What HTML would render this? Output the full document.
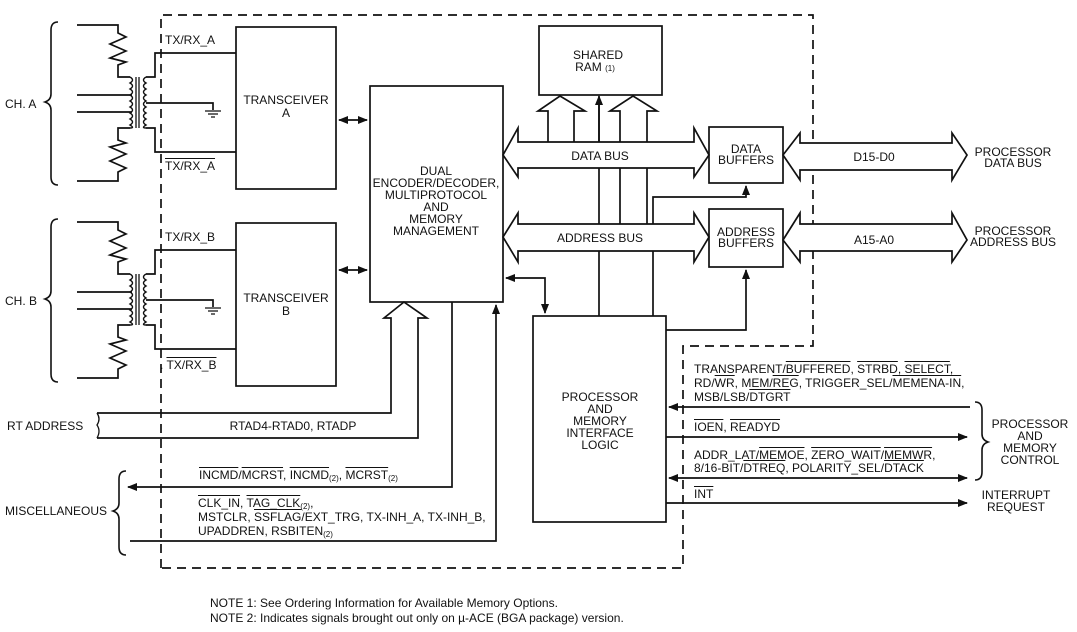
<!DOCTYPE html>
<html><head><meta charset="utf-8"><style>
html,body{margin:0;padding:0;background:#fff;}
#w{position:relative;width:1077px;height:632px;overflow:hidden;}
svg{display:block;position:absolute;left:0;top:0;}
text{font-family:"Liberation Sans",sans-serif;font-size:12px;fill:#111;}
.t{position:absolute;font-family:"Liberation Sans",sans-serif;font-size:12px;line-height:12px;color:#111;white-space:nowrap;}
.o{text-decoration:overline;}
sub{font-size:8px;vertical-align:-2px;line-height:0;}
</style></head><body><div id="w">
<svg width="1077" height="632" viewBox="0 0 1077 632" xmlns="http://www.w3.org/2000/svg">
<defs>
<marker id="ah" markerWidth="10" markerHeight="8" refX="9" refY="4" orient="auto" markerUnits="userSpaceOnUse"><path d="M0,0 L10,4 L0,8 z" fill="#111"/></marker>
<marker id="as" markerWidth="10" markerHeight="8" refX="1" refY="4" orient="auto" markerUnits="userSpaceOnUse"><path d="M10,0 L0,4 L10,8 z" fill="#111"/></marker>
<g id="chan" fill="none" stroke="#111" stroke-width="1.7">
<path d="M77,25 H118 V33 L126,37 L110,44 L126,51 L110,58 L126,62 L118,65 V77 H130"/>
<path d="M77,181 H118 V172 L126,168 L110,161 L126,154 L110,147 L126,143 L118,140 V128 H130"/>
<path d="M77,95 H132 M77,112 H132"/>
<path d="M130,77 q5,3 0,6 q5,3 0,6 q5,3 0,6 q5,3 0,6 q5,3 0,6 q5,3 0,6 q5,3 0,6 q5,3 0,6 q5,3 0,3" stroke-width="1.4"/>
<path d="M136,77 V128 M139,77 V128" stroke-width="1.3"/>
<path d="M146,77 q-5,3 0,6 q-5,3 0,6 q-5,3 0,6 q-5,3 0,6 q-5,3 0,6 q-5,3 0,6 q-5,3 0,6 q-5,3 0,6 q-5,3 0,3" stroke-width="1.4"/>
<path d="M146,77 H155 V53 H236 M146,128 H155 V152 H236 M146,103 H213 V110"/>
<path d="M205,111 H221 M208,114 H218 M211,117 H215" stroke-width="1.2"/>
</g>
</defs>

<g fill="none" stroke="#111" stroke-width="1.6">
<path d="M58,22 q-7,0 -7,8 V94 q0,6 -6,8 q6,2 6,8 V177 q0,8 7,8"/>
<path d="M58,219 q-7,0 -7,8 V291 q0,6 -6,8 q6,2 6,8 V374 q0,8 7,8"/>
<path d="M126,471 q-7,0 -7,8 V503 q0,6 -6,8 q6,2 6,8 V547 q0,8 7,8"/>
<path d="M975,402 q7,0 7,8 V434 q0,6 6,8 q-6,2 -6,8 V472 q0,8 -7,8"/>
</g>

<use href="#chan"/>
<use href="#chan" transform="translate(0,197)"/>

<path d="M161,568 V15 H813 V346 H683 V568 Z" fill="none" stroke="#111" stroke-width="1.7" stroke-dasharray="9,6"/>

<g fill="#fff" stroke="#111" stroke-width="1.7">
<rect x="236" y="27" width="100" height="162"/>
<rect x="236" y="223" width="100" height="163"/>
<rect x="370" y="86" width="133" height="216"/>
<rect x="539" y="26" width="123" height="69"/>
<rect x="709" y="127" width="74" height="56"/>
<rect x="709" y="209" width="74" height="58"/>
<rect x="533" y="316" width="133" height="206"/>
</g>

<g fill="none" stroke="#111" stroke-width="1.7">
<path d="M599,316 V251 M599,224 V168 M599,142 V98" />
<path d="M620,168 V224 M647,168 V224"/>
<path d="M653,224 V197 H746 V186" marker-end="url(#ah)"/>
<path d="M599,142 V96" marker-end="url(#ah)"/>
<path d="M653,251 V316"/>
<path d="M666,330 H746 V270" marker-end="url(#ah)"/>
<path d="M506,278 H545 V313" marker-start="url(#as)" marker-end="url(#ah)"/>
<path d="M339,120 H367" marker-start="url(#as)" marker-end="url(#ah)"/>
<path d="M339,270 H367" marker-start="url(#as)" marker-end="url(#ah)"/>
<path d="M548,142 V111 H538 L560,96 L585,111 H574 V142"/>
<path d="M620,142 V111 H610 L633,96 L657,111 H647 V142"/>
<path d="M548,142 H518 V128 L503,155 L518,177 V168 H694 V177 L709,155 L694,128 V142 Z" fill="#fff"/>
<path d="M518,224 V213 L503,237 L518,262 V251 H694 V262 L709,237 L694,213 V224 Z" fill="#fff"/>
<path d="M800,143 V133 L783,155 L800,180 V170 H952 V180 L967,155 L952,133 V143 Z" fill="#fff"/>
<path d="M800,224 V213 L783,240 L800,262 V251 H952 V262 L967,240 L952,213 V224 Z" fill="#fff"/>
<path d="M97,413 H391 V318 H384 L404,302 L427,318 H418 V438 H97"/>
<path d="M97,413 q4,6 0,12 q4,6 0,13" stroke-width="1.3"/>
<path d="M452,302 V487 H128" marker-end="url(#ah)"/>
<path d="M130,541 H496 V305" marker-end="url(#ah)"/>
<path d="M970,407 H669" marker-end="url(#ah)"/>
<path d="M666,437 H967" marker-end="url(#ah)"/>
<path d="M669,478 H967" marker-start="url(#as)" marker-end="url(#ah)"/>
<path d="M666,503 H967" marker-end="url(#ah)"/>
</g>

<text x="5" y="108">CH. A</text>
<text x="5" y="305">CH. B</text>
<text x="165" y="44">TX/RX_A</text>
<text x="165" y="241">TX/RX_B</text>
<g text-anchor="middle">
<text x="286" y="104">TRANSCEIVER</text><text x="286" y="117">A</text>
<text x="286" y="302">TRANSCEIVER</text><text x="286" y="315">B</text>
<text x="436" y="175">DUAL</text>
<text x="436" y="187">ENCODER/DECODER,</text>
<text x="436" y="199">MULTIPROTOCOL</text>
<text x="436" y="211">AND</text>
<text x="436" y="223">MEMORY</text>
<text x="436" y="235">MANAGEMENT</text>
<text x="598" y="59">SHARED</text>
<text x="595" y="71">RAM <tspan font-size="8">(1)</tspan></text>
<text x="746" y="153">DATA</text><text x="746" y="164">BUFFERS</text>
<text x="746" y="236">ADDRESS</text><text x="746" y="247">BUFFERS</text>
<text x="600" y="160">DATA BUS</text>
<text x="600" y="242">ADDRESS BUS</text>
<text x="874" y="161">D15-D0</text>
<text x="874" y="244">A15-A0</text>
<text x="1013" y="156">PROCESSOR</text><text x="1013" y="167">DATA BUS</text>
<text x="1013" y="235">PROCESSOR</text><text x="1013" y="246">ADDRESS BUS</text>
<text x="600" y="401">PROCESSOR</text>
<text x="600" y="413">AND</text>
<text x="600" y="425">MEMORY</text>
<text x="600" y="437">INTERFACE</text>
<text x="600" y="449">LOGIC</text>
<text x="1030" y="428">PROCESSOR</text>
<text x="1030" y="440">AND</text>
<text x="1030" y="452">MEMORY</text>
<text x="1030" y="464">CONTROL</text>
<text x="1016" y="499">INTERRUPT</text>
<text x="1016" y="511">REQUEST</text>
<text x="293" y="430">RTAD4-RTAD0, RTADP</text>
</g>
<text x="7" y="430">RT ADDRESS</text>
<text x="5" y="515">MISCELLANEOUS</text>
<text x="210" y="607">NOTE 1: See Ordering Information for Available Memory Options.</text>
<text x="210" y="622">NOTE 2: Indicates signals brought out only on µ-ACE (BGA package) version.</text>
</svg>
<div class="t" style="left:165px;top:160px"><span class="o">TX/RX_A</span></div>
<div class="t" style="left:160px;top:359px">. <span class="o">TX/RX_B</span></div>
<div class="t" style="left:199px;top:469px"><span class="o">INCMD</span>/<span class="o">MCRST</span>, <span class="o">INCMD</span><sub>(2)</sub>, <span class="o">MCRST</span><sub>(2)</sub></div>
<div class="t" style="left:198px;top:497px"><span class="o">CLK_IN</span>, <span class="o">TAG_CLK</span><sub>(2)</sub>,</div>
<div class="t" style="left:198px;top:511px">MSTCLR, <span class="o">SSFLAG</span>/EXT_TRG, TX-INH_A, TX-INH_B,</div>
<div class="t" style="left:198px;top:525px">UPADDREN, RSBITEN<sub>(2)</sub></div>
<div class="t" style="left:694px;top:363px">TRANSPARENT/<span class="o">BUFFERED</span>, <span class="o">STRBD</span>, <span class="o">SELECT</span>,</div>
<div class="t" style="left:694px;top:377px">RD/<span class="o">WR</span>, MEM/<span class="o">REG</span>, TRIGGER_SEL/<span class="o">MEMENA-IN</span>,</div>
<div class="t" style="left:694px;top:391px">MSB/LSB/<span class="o">DTGRT</span></div>
<div class="t" style="left:694px;top:421px"><span class="o">IOEN</span>, <span class="o">READYD</span></div>
<div class="t" style="left:694px;top:449px">ADDR_LAT/<span class="o">MEMOE</span>, <span class="o">ZERO_WAIT</span>/<span class="o">MEMWR</span>,</div>
<div class="t" style="left:694px;top:462px">8/16-BIT/<span class="o">DTREQ</span>, POLARITY_SEL/<span class="o">DTACK</span></div>
<div class="t" style="left:694px;top:488px"><span class="o">INT</span></div>
</div>
</body></html>
